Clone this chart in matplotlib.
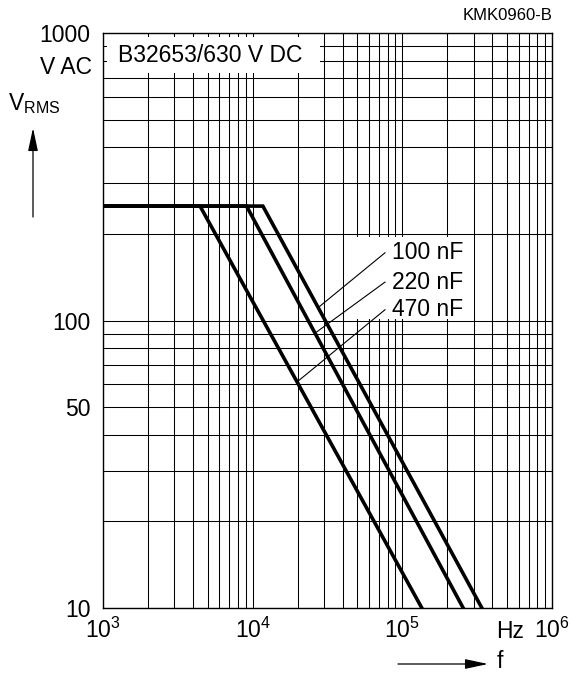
import numpy as np
import matplotlib
matplotlib.use("Agg")
import matplotlib.pyplot as plt
from matplotlib.patches import Rectangle
from matplotlib.ticker import LogLocator, NullFormatter, FixedLocator

plt.rcParams['font.family'] = ['Liberation Sans', 'DejaVu Sans']
plt.rcParams['mathtext.fontset'] = 'custom'
plt.rcParams['mathtext.rm'] = 'Liberation Sans'
plt.rcParams['mathtext.it'] = 'Liberation Sans:italic'

# permissible AC voltage vs. frequency, one curve per capacitance
caps = ['100 nF', '220 nF', '470 nF']
f_100 = [1e3, 11.7e3, 340e3]
v_100 = [250, 250, 10]
f_220 = [1e3, 9.1e3, 255e3]
v_220 = [250, 250, 10]
f_470 = [1e3, 4.45e3, 135e3]
v_470 = [250, 250, 10]

# where each leader line meets its curve
f_leader = [27.4e3, 26.1e3, 19.8e3]
v_label = [172, 136, 109]

x_ticks = [1e3, 1e4, 1e5, 1e6]
x_ticklabels = [r'$\mathregular{10^3}$', r'$\mathregular{10^4}$',
                r'$\mathregular{10^5}$', r'$\mathregular{10^6}$']
y_ticks = [10, 50, 100, 1000]
y_ticklabels = ['10', '50', '100', '1000']

FS = 16.5

fig = plt.figure(figsize=(5.79, 6.73), dpi=100)
W, H = 579, 673
ax = fig.add_axes([103 / W, 65 / H, 449 / W, 575 / H])
ax.set_xscale('log')
ax.set_yscale('log')
ax.set_xlim(1e3, 1e6)
ax.set_ylim(10, 1000)

ax.xaxis.set_major_locator(FixedLocator(x_ticks))
ax.set_xticklabels(x_ticklabels, fontsize=FS)
ax.yaxis.set_major_locator(FixedLocator(y_ticks))
ax.set_yticklabels(y_ticklabels, fontsize=FS)
for a in (ax.xaxis, ax.yaxis):
    a.set_minor_locator(LogLocator(base=10, subs=np.arange(2, 10)))
    a.set_minor_formatter(NullFormatter())
ax.tick_params(which='both', length=0)
ax.tick_params(axis='x', pad=7)
ax.tick_params(axis='y', pad=9)
ax.set_axisbelow(True)
ax.grid(which='both', color='black', lw=0.75)
for s in ax.spines.values():
    s.set_linewidth(1.0)

# white panels behind the title and the capacitance labels
ax.add_patch(Rectangle((1065, 725), 28.2e3 - 1065, 965 - 725,
                       facecolor='white', edgecolor='none', zorder=1))
ax.add_patch(Rectangle((44e3, 101), 301e3 - 44e3, 195 - 101,
                       facecolor='white', edgecolor='none', zorder=1))

ax.text(1250, 838, 'B32653/630 V DC', fontsize=FS, va='center', ha='left', zorder=2)

curves = [(f_100, v_100), (f_220, v_220), (f_470, v_470)]
for f, v in curves:
    ax.plot(f, v, color='black', lw=2.6, solid_joinstyle='miter', zorder=3)

for (f, v), fl, vl, name in zip(curves, f_leader, v_label, caps):
    vc = 10 ** np.interp(np.log10(fl), np.log10(f), np.log10(v))
    ax.plot([fl, 76.6e3], [vc, vl], color='black', lw=0.8, zorder=3)
    ax.text(85e3, vl, name, fontsize=FS, va='center', ha='left', zorder=4)

# axis captions
ax.text(525e3, -0.040, 'Hz', fontsize=FS, ha='center', va='center',
        transform=ax.get_xaxis_transform())
fig.text(92 / W, 1 - 68 / H, 'V AC', fontsize=FS, ha='right', va='center')
fig.text(8 / W, 1 - 104 / H, r'V$_{\mathregular{RMS}}$', fontsize=FS, ha='left', va='center')
fig.text(552 / W, 1 - 16 / H, 'KMK0960-B', fontsize=12, ha='right', va='center')
fig.text(497 / W, 1 - 661 / H, 'f', fontsize=FS, ha='left', va='center')

arrow = dict(arrowstyle='-|>,head_length=1.4,head_width=0.3', lw=0.9,
             color='black', shrinkA=0, shrinkB=0)
ax.annotate('', xy=(488, H - 664), xytext=(398, H - 664),
            xycoords='figure pixels', textcoords='figure pixels', arrowprops=arrow)
ax.annotate('', xy=(33, H - 128), xytext=(33, H - 217),
            xycoords='figure pixels', textcoords='figure pixels', arrowprops=arrow)

fig.savefig('out.png', dpi=100, facecolor='white')
